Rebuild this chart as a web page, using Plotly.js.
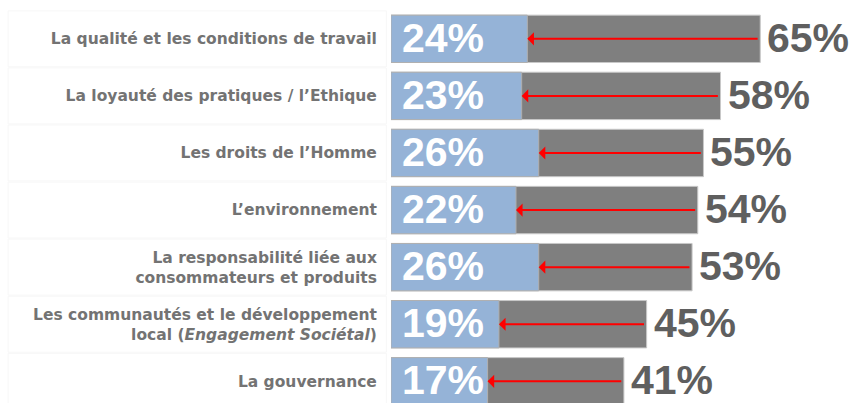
<!DOCTYPE html>
<html>
<head>
<meta charset="utf-8">
<script src="https://cdn.plot.ly/plotly-3.0.1.min.js"></script>
<style>
  html, body { margin: 0; padding: 0; background: #ffffff; }
  #plot { width: 854px; height: 403px; }
</style>
</head>
<body>
<div id="plot"></div>
<script>
// Categories, top to bottom
const categories = [
  'La qualité et les conditions de travail',
  'La loyauté des pratiques / l\u2019Ethique',
  'Les droits de l\u2019Homme',
  'L\u2019environnement',
  'La responsabilité liée aux<br>consommateurs et produits',
  'Les communautés et le développement<br>local (<i>Engagement Sociétal</i>)',
  'La gouvernance'
];

// Gray bars (larger values) and blue bars (smaller values), in %
const grayValues = [65, 58, 55, 54, 53, 45, 41];
const blueValues = [24, 23, 26, 22, 26, 19, 17];

const idx = categories.map((c, i) => i);

const grayTrace = {
  type: 'bar',
  orientation: 'h',
  x: grayValues,
  y: idx,
  width: 0.83,
  marker: { color: '#7f7f7f', line: { color: '#c8c8c8', width: 1 } },
  hoverinfo: 'skip'
};

const blueTrace = {
  type: 'bar',
  orientation: 'h',
  x: blueValues,
  y: idx,
  width: 0.83,
  marker: { color: '#95b3d7', line: { color: '#b0b0b0', width: 1 } },
  hoverinfo: 'skip'
};

const bigFont = { family: 'Liberation Sans, Arial, sans-serif', size: 41, weight: 'bold' };

const annotations = [];
idx.forEach(i => {
  // red arrow from gray end to blue end
  annotations.push({
    x: blueValues[i], y: i, xref: 'x', yref: 'y',
    ax: grayValues[i] - 0.2, ay: i, axref: 'x', ayref: 'y',
    showarrow: true, arrowhead: 1, arrowsize: 1.1, arrowwidth: 2,
    arrowcolor: '#ff0000', text: ''
  });
  // blue value inside start
  annotations.push({
    x: 0, y: i, xref: 'x', yref: 'y', xanchor: 'left', yanchor: 'middle',
    xshift: 9, yshift: 1, showarrow: false,
    text: blueValues[i] + '%',
    font: Object.assign({}, bigFont, { color: '#ffffff' })
  });
  // gray value outside end
  annotations.push({
    x: grayValues[i], y: i, xref: 'x', yref: 'y', xanchor: 'left', yanchor: 'middle',
    xshift: 5, yshift: 1, showarrow: false,
    text: grayValues[i] + '%',
    font: Object.assign({}, bigFont, { color: '#5f5f5f' })
  });
});

// faint label boxes on the left
const shapes = idx.map(i => ({
  type: 'rect', xref: 'paper', yref: 'y',
  x0: -0.827, x1: -0.01, y0: i - 0.49, y1: i + 0.49,
  line: { color: '#f7f7f7', width: 1 }, fillcolor: '#ffffff', layer: 'below'
}));

const layout = {
  width: 854,
  height: 403,
  margin: { l: 391, r: 0, t: 0, b: 0 },
  barmode: 'overlay',
  showlegend: false,
  paper_bgcolor: '#ffffff',
  plot_bgcolor: 'rgba(0,0,0,0)',
  xaxis: {
    range: [0, 81.5],
    showgrid: false, zeroline: false, showticklabels: false, showline: false
  },
  yaxis: {
    range: [6.38, -0.68],
    tickmode: 'array',
    tickvals: idx,
    ticktext: categories,
    ticks: 'outside', ticklen: 10, tickcolor: 'rgba(0,0,0,0)',
    showgrid: false, zeroline: false, showline: false,
    tickfont: { family: 'DejaVu Sans, sans-serif', size: 15.5, color: '#737373', weight: 'bold' }
  },
  annotations: annotations,
  shapes: shapes
};

Plotly.newPlot('plot', [grayTrace, blueTrace], layout, { displayModeBar: false, staticPlot: true });
</script>
</body>
</html>
